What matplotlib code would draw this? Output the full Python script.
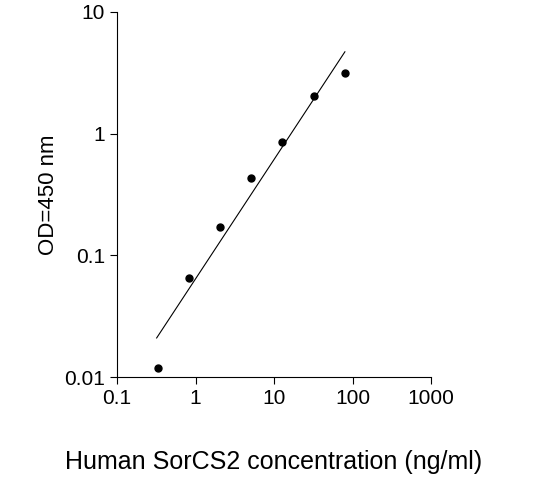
import matplotlib
matplotlib.use("Agg")
import matplotlib.pyplot as plt

conc = [0.33, 0.82, 2.05, 5.12, 12.8, 32, 80]
od = [0.012, 0.065, 0.17, 0.43, 0.85, 2.05, 3.15]
fit_x = [0.32, 80]
fit_y = [0.021, 4.7]

plt.rcParams['font.family'] = ['Liberation Sans', 'DejaVu Sans']
fig = plt.figure(figsize=(5.53, 4.95), dpi=100)
ax = fig.add_axes([117/553, 0.238, 314/553, 0.738])
ax.set_xscale('log'); ax.set_yscale('log')
ax.set_xlim(0.1, 1000); ax.set_ylim(0.01, 10)
ax.plot(fit_x, fit_y, color='black', lw=0.8)
ax.plot(conc, od, 'o', color='black', ms=5)
for s in ['top', 'right']:
    ax.spines[s].set_visible(False)
ax.set_xticks([0.1, 1, 10, 100, 1000]); ax.set_xticklabels(['0.1', '1', '10', '100', '1000'])
ax.set_yticks([0.01, 0.1, 1, 10]); ax.set_yticklabels(['0.01', '0.1', '1', '10'])
ax.minorticks_off()
ax.tick_params(direction='out', labelsize=15, length=5)
ax.set_ylabel('OD=450 nm', fontsize=16)
ax.set_xlabel('Human SorCS2 concentration (ng/ml)', fontsize=18, labelpad=30)
fig.savefig('out.png', dpi=100)
